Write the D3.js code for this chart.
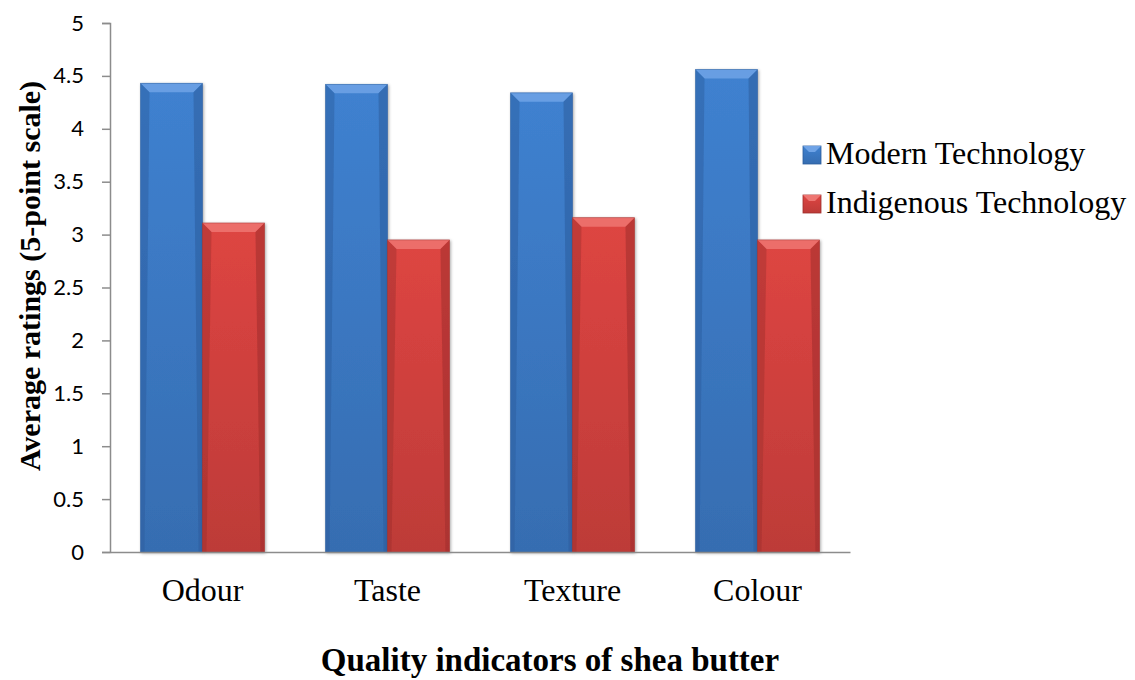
<!DOCTYPE html>
<html>
<head>
<meta charset="utf-8">
<script src="https://cdnjs.cloudflare.com/ajax/libs/d3/7.8.5/d3.min.js"></script>
<style>
  body { margin: 0; background: #fff; }
  svg { display: block; }
</style>
</head>
<body>
<div id="chart"></div>
<script>
// data
const categories = ["Odour", "Taste", "Texture", "Colour"];
const seriesNames = ["Modern Technology", "Indigenous Technology"];
const modernValues = [4.43, 4.42, 4.34, 4.56];
const indigenousValues = [3.11, 2.95, 3.16, 2.95];
const yTicks = [0, 0.5, 1, 1.5, 2, 2.5, 3, 3.5, 4, 4.5, 5];

const width = 1135;
const height = 680;
const margin = { top: 23, right: 285, bottom: 128, left: 110 };
const innerW = width - margin.left - margin.right;
const innerH = height - margin.top - margin.bottom;

const colors = {
    "Modern Technology": { base: "#3d7cc9", light: "#6fa3e6", dark: "#2b5c9c" },
    "Indigenous Technology": { base: "#d64340", light: "#ee7672", dark: "#9e2e2c" }
};

const svg = d3.select("#chart")
    .append("svg")
    .attr("width", width)
    .attr("height", height);

const defs = svg.append("defs");
seriesNames.forEach((s, i) => {
    const c = colors[s];
    const g = defs.append("linearGradient")
        .attr("id", "grad" + i)
        .attr("x1", 0).attr("y1", 0).attr("x2", 0).attr("y2", 1);
    g.append("stop").attr("offset", "0%").attr("stop-color", d3.color(c.base).brighter(0.1));
    g.append("stop").attr("offset", "100%").attr("stop-color", d3.color(c.base).darker(0.35));
});
const shadow = defs.append("filter").attr("id", "shadow")
    .attr("x", "-20%").attr("y", "-5%").attr("width", "140%").attr("height", "110%");
shadow.append("feDropShadow")
    .attr("dx", 1).attr("dy", 1).attr("stdDeviation", 1.5)
    .attr("flood-color", "#000").attr("flood-opacity", 0.35);

const g = svg.append("g")
    .attr("transform", `translate(${margin.left},${margin.top})`);

const x0 = d3.scaleBand()
    .domain(categories)
    .range([0, innerW])
    .paddingInner(0.33)
    .paddingOuter(0.165);

const x1 = d3.scaleBand()
    .domain(seriesNames)
    .range([0, x0.bandwidth()]);

const y = d3.scaleLinear()
    .domain([0, 5])
    .range([innerH, 0]);

// bars
const rows = categories.map((c, i) => ({
    cat: c,
    vals: [
        { s: seriesNames[0], v: modernValues[i], idx: 0 },
        { s: seriesNames[1], v: indigenousValues[i], idx: 1 }
    ]
}));

const groups = g.selectAll(".cat")
    .data(rows)
    .enter().append("g")
    .attr("class", "cat")
    .attr("transform", d => `translate(${x0(d.cat)},0)`);

const bars = groups.selectAll(".bar")
    .data(d => d.vals)
    .enter().append("g")
    .attr("class", "bar")
    .attr("filter", "url(#shadow)");

bars.each(function(d) {
    const el = d3.select(this);
    const bx = x1(d.s);
    const bw = x1.bandwidth();
    const by = y(d.v);
    const bh = innerH - by;
    const c = colors[d.s];
    const b = 9;   // bevel depth
    const sb = 4;  // side bevel
    el.append("rect")
        .attr("x", bx).attr("y", by)
        .attr("width", bw).attr("height", bh)
        .attr("fill", `url(#grad${d.idx})`);
    // top bevel
    el.append("path")
        .attr("d", `M${bx},${by} L${bx + bw},${by} L${bx + bw - b},${by + b} L${bx + b},${by + b} Z`)
        .attr("fill", c.light).attr("opacity", 0.85);
    // left edge
    el.append("path")
        .attr("d", `M${bx},${by} L${bx + b},${by + b} L${bx + sb},${by + bh} L${bx},${by + bh} Z`)
        .attr("fill", c.dark).attr("opacity", 0.45);
    // right edge
    el.append("path")
        .attr("d", `M${bx + bw},${by} L${bx + bw - b},${by + b} L${bx + bw - sb},${by + bh} L${bx + bw},${by + bh} Z`)
        .attr("fill", c.dark).attr("opacity", 0.55);
    el.append("rect")
        .attr("x", bx).attr("y", by)
        .attr("width", bw).attr("height", bh)
        .attr("fill", "none")
        .attr("stroke", c.dark).attr("stroke-opacity", 0.6).attr("stroke-width", 0.8);
});

// axes
const yAxis = g.append("g")
    .call(d3.axisLeft(y).tickValues(yTicks).tickSize(8).tickPadding(18).tickFormat(d3.format("")));
yAxis.select(".domain").attr("stroke", "#8c8c8c").attr("stroke-width", 1.5);
yAxis.selectAll(".tick line").attr("stroke", "#8c8c8c").attr("stroke-width", 1.5);
yAxis.selectAll(".tick text")
    .attr("font-family", "Lato, 'Open Sans', sans-serif")
    .attr("font-size", 22)
    .attr("fill", "#000");

const xAxis = g.append("g")
    .attr("transform", `translate(0,${innerH})`)
    .call(d3.axisBottom(x0).tickSize(0).tickPadding(26));
xAxis.select(".domain").attr("stroke", "#8c8c8c").attr("stroke-width", 1.5);
xAxis.selectAll(".tick text")
    .attr("font-family", "'Liberation Serif', 'Times New Roman', serif")
    .attr("font-size", 32)
    .attr("fill", "#000");

// axis titles
svg.append("text")
    .attr("transform", "translate(40,276) rotate(-90)")
    .attr("text-anchor", "middle")
    .attr("font-family", "'Liberation Serif', 'Times New Roman', serif")
    .attr("font-weight", "bold")
    .attr("font-size", 30)
    .text("Average ratings (5-point scale)");

svg.append("text")
    .attr("x", 550)
    .attr("y", 671)
    .attr("text-anchor", "middle")
    .attr("font-family", "'Liberation Serif', 'Times New Roman', serif")
    .attr("font-weight", "bold")
    .attr("font-size", 33)
    .text("Quality indicators of shea butter");

// legend
const legend = svg.append("g")
    .attr("transform", "translate(803,146)");

const items = legend.selectAll(".item")
    .data(seriesNames)
    .enter().append("g")
    .attr("class", "item")
    .attr("transform", (d, i) => `translate(0,${i * 49})`);

items.append("rect")
    .attr("width", 18).attr("height", 18)
    .attr("fill", (d, i) => `url(#grad${i})`)
    .attr("stroke", d => colors[d].dark).attr("stroke-width", 0.8);
items.append("path")
    .attr("d", "M0,0 L18,0 L12,6 L6,6 Z")
    .attr("fill", d => colors[d].light);

items.append("text")
    .attr("x", 23)
    .attr("y", 18)
    .attr("font-family", "'Liberation Serif', 'Times New Roman', serif")
    .attr("font-size", 32)
    .text(d => d);
</script>
</body>
</html>
